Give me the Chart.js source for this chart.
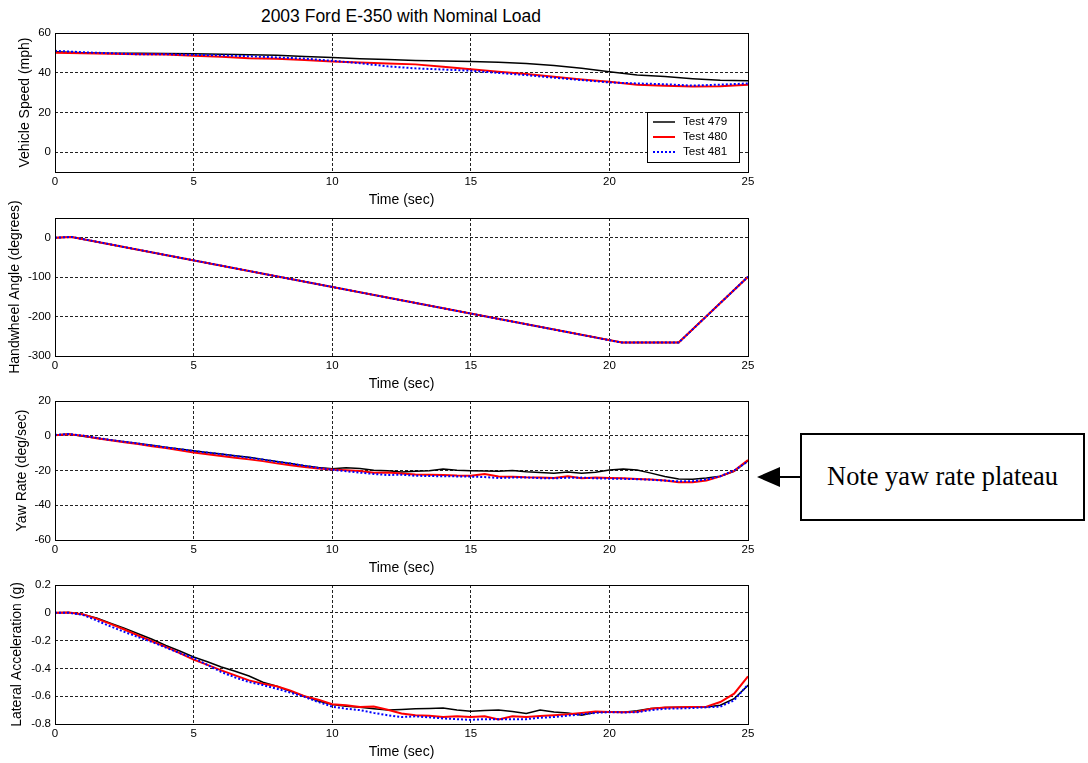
<!DOCTYPE html>
<html>
<head>
<meta charset="utf-8">
<script src="https://cdn.jsdelivr.net/npm/chart.js@4.4.1/dist/chart.umd.min.js"></script>
<style>
  body { margin: 0; background: #fff; width: 1088px; height: 763px; position: relative; overflow: hidden; font-family: 'Liberation Sans', Arial, sans-serif; }
  canvas { position: absolute; left: 0; }
  #title { position: absolute; left: 0; width: 802px; top: 8px; text-align: center; font-size: 17.5px; line-height: 1; color: #000; }
  #note { position: absolute; left: 0; top: 0; }
</style>
</head>
<body>
<div id="title">2003 Ford E-350 with Nominal Load</div>
<canvas id="speedChart"></canvas>
<canvas id="steerChart"></canvas>
<canvas id="yawChart"></canvas>
<canvas id="latChart"></canvas>
<svg id="note" width="1088" height="763">
  <rect x="801" y="434" width="283" height="86" fill="#fff" stroke="#000" stroke-width="2"/>
  <line x1="800" y1="477" x2="779" y2="477" stroke="#000" stroke-width="2"/>
  <polygon points="757,477 780,467 780,487" fill="#000"/>
  <text x="942.5" y="485" text-anchor="middle" font-family="'Liberation Serif', 'Times New Roman', serif" font-size="26.4">Note yaw rate plateau</text>
</svg>
<script>
const seriesLabels = ['Test 479', 'Test 480', 'Test 481'];
const xTicks = [0, 5, 10, 15, 20, 25];

// vehicle speed, mph
const speedTime = [0, 1, 2, 3, 4, 5, 6, 7, 8, 9, 10, 11, 12, 13, 14, 15, 16, 17, 18, 19, 20, 21, 22, 23, 24, 25];
const speed479 = [50.5, 50, 49.8, 49.8, 49.7, 49.5, 49.3, 49.1, 48.8, 48.2, 47.6, 47, 46.6, 46.2, 45.9, 45.6, 45.3, 44.7, 43.6, 42.2, 40.5, 38.8, 38.1, 37, 36.2, 36];
const speed480 = [50, 49.8, 49.5, 49.3, 49.2, 48.6, 48.1, 47.3, 47, 46.4, 45.6, 45.1, 44.7, 44.2, 43, 41.8, 40.5, 39.3, 38, 36.6, 35.4, 34, 33.4, 33, 33.2, 34];
const speed481 = [51, 50.3, 49.8, 49.3, 49.3, 49, 48.7, 48.3, 47.7, 47.1, 46, 44.8, 43.2, 42.2, 41.6, 41, 39.9, 38.8, 37.5, 36.3, 35.1, 34.6, 34.2, 33.5, 34, 34.6];
const speedTicks = [0, 20, 40, 60];

// handwheel angle, degrees
const steerTime = [0, 0.6, 20.45, 22.5, 25];
const steer479 = [0, 2, -266, -266, -99];
const steer480 = [0, 2, -266, -266, -99];
const steer481 = [0, 2, -266, -266, -99];
const steerTicks = [-300, -200, -100, 0];

// yaw rate, deg/sec (0.5 s steps)
const yawTime = [0, 0.5, 1, 1.5, 2, 2.5, 3, 3.5, 4, 4.5, 5, 5.5, 6, 6.5, 7, 7.5, 8, 8.5, 9, 9.5, 10, 10.5, 11, 11.5, 12, 12.5, 13, 13.5, 14, 14.5, 15, 15.5, 16, 16.5, 17, 17.5, 18, 18.5, 19, 19.5, 20, 20.5, 21, 21.5, 22, 22.5, 23, 23.5, 24, 24.5, 25];
const yaw479 = [0.4, 1, -0.3, -1.3, -2.4, -3.4, -4.4, -5.5, -6.6, -7.6, -8.6, -9.6, -10.5, -11.5, -12.4, -13.6, -14.8, -16, -17.2, -18.2, -19, -18.4, -18.8, -19.8, -20.1, -20.9, -20.5, -20.2, -19.1, -19.8, -20.1, -20.3, -20.5, -20, -20.7, -21.2, -21.6, -20.8, -21.6, -21, -19.7, -19.2, -19.7, -21.5, -23.5, -24.9, -25, -24.3, -23.3, -20.5, -14.4];
const yaw480 = [0.3, 0.8, 0, -1.5, -2.6, -3.7, -4.8, -6, -7.1, -8.4, -9.6, -10.6, -11.6, -12.6, -13.6, -14.6, -15.9, -17, -18, -18.8, -19.4, -19.8, -20.3, -21.3, -21.2, -21.7, -22.3, -22.4, -22.6, -22.9, -23, -22, -23.5, -23.6, -23.9, -24, -24.3, -23.3, -24.5, -24.1, -24.3, -24.5, -24.9, -25.2, -25.8, -26.7, -26.8, -25.8, -23.4, -20.2, -14];
const yaw481 = [0.5, 1, 0.1, -1.2, -2.4, -3.4, -4.5, -5.6, -6.7, -7.7, -8.7, -9.7, -10.6, -11.6, -12.6, -13.7, -14.9, -16, -17.3, -18.5, -19.6, -20.4, -21.2, -22, -22.6, -22.4, -23, -23.2, -23.3, -23.4, -23.5, -23.8, -24.3, -24.1, -24, -24.4, -24.5, -24.2, -24.1, -24.5, -24.7, -24.8, -25, -25.3, -25.8, -26.2, -26.2, -25.2, -23.3, -20, -14.8];
const yawTicks = [-60, -40, -20, 0, 20];

// lateral acceleration, g (0.5 s steps)
const latTime = yawTime;
const lat479 = [0, 0.003, -0.012, -0.038, -0.074, -0.11, -0.151, -0.19, -0.235, -0.275, -0.318, -0.352, -0.39, -0.42, -0.455, -0.5, -0.529, -0.565, -0.6, -0.635, -0.66, -0.672, -0.68, -0.69, -0.7, -0.695, -0.69, -0.688, -0.685, -0.7, -0.709, -0.703, -0.7, -0.71, -0.725, -0.7, -0.713, -0.72, -0.737, -0.715, -0.713, -0.715, -0.705, -0.688, -0.682, -0.68, -0.677, -0.677, -0.665, -0.618, -0.522];
const lat480 = [0, 0.002, -0.01, -0.042, -0.08, -0.12, -0.163, -0.205, -0.245, -0.29, -0.337, -0.375, -0.414, -0.45, -0.486, -0.51, -0.529, -0.56, -0.6, -0.625, -0.658, -0.665, -0.678, -0.675, -0.697, -0.725, -0.737, -0.74, -0.75, -0.745, -0.75, -0.745, -0.768, -0.745, -0.75, -0.742, -0.737, -0.73, -0.72, -0.71, -0.713, -0.716, -0.712, -0.69, -0.682, -0.68, -0.678, -0.675, -0.642, -0.582, -0.457];
const lat481 = [0, 0, -0.015, -0.055, -0.098, -0.137, -0.175, -0.21, -0.25, -0.29, -0.325, -0.375, -0.426, -0.465, -0.498, -0.52, -0.546, -0.575, -0.605, -0.642, -0.675, -0.69, -0.7, -0.72, -0.737, -0.75, -0.745, -0.752, -0.76, -0.765, -0.77, -0.765, -0.765, -0.765, -0.765, -0.755, -0.75, -0.74, -0.73, -0.72, -0.715, -0.717, -0.715, -0.7, -0.69, -0.688, -0.685, -0.68, -0.675, -0.63, -0.515];
const latTicks = [-0.8, -0.6, -0.4, -0.2, 0, 0.2];

const FONT = "'Liberation Sans', Arial, sans-serif";
Chart.defaults.font.family = FONT;
Chart.defaults.color = '#000';

// order: blue dotted drawn on top, black at the bottom
const lineStyles = [
    { borderColor: '#000000', borderWidth: 1.5, order: 3 },
    { borderColor: '#ff0000', borderWidth: 2, order: 2 },
    { borderColor: '#0000ff', borderWidth: 2, borderDash: [2, 2], order: 1 }
];

const PAD_TOP = 20;
const panels = [
    { id: 'speedChart', plotTop: 33, plotH: 139, label: 'Vehicle Speed (mph)', min: -10, max: 60, ticks: speedTicks, labelX: 25,
      time: speedTime, series: [speed479, speed480, speed481], legend: true },
    { id: 'steerChart', plotTop: 218, plotH: 138, label: 'Handwheel Angle (degrees)', min: -300, max: 50, ticks: steerTicks, labelX: 15,
      time: steerTime, series: [steer479, steer480, steer481] },
    { id: 'yawChart', plotTop: 401, plotH: 139, label: 'Yaw Rate (deg/sec)', min: -60, max: 20, ticks: yawTicks, labelX: 21.8,
      time: yawTime, series: [yaw479, yaw480, yaw481] },
    { id: 'latChart', plotTop: 585, plotH: 139, label: 'Lateral Acceleration (g)', min: -0.8, max: 0.2, ticks: latTicks, labelX: 17.6,
      time: latTime, series: [lat479, lat480, lat481] }
];

// solid box around the plot area, the y label (may run past the axis, like matlab) and the legend
const framePlugin = {
    id: 'frame',
    afterDatasetsDraw(chart, args, opts) {
        const ctx = chart.ctx;
        const a = chart.chartArea;
        ctx.save();
        ctx.setLineDash([]);
        ctx.strokeStyle = '#000';
        ctx.lineWidth = 1;
        ctx.strokeRect(Math.round(a.left) + 0.5, Math.round(a.top) + 0.5, Math.round(a.right - a.left), Math.round(a.bottom - a.top));

        ctx.save();
        ctx.translate(opts.labelX, (a.top + a.bottom) / 2);
        ctx.rotate(-Math.PI / 2);
        ctx.font = '14px ' + FONT;
        ctx.fillStyle = '#000';
        ctx.textAlign = 'center';
        ctx.textBaseline = 'middle';
        ctx.fillText(opts.label, 0, 0);
        ctx.restore();

        if (opts.legend) {
            const w = 92, h = 50;
            const left = Math.round(a.right) - 9 - w;
            const top = Math.round(a.bottom) - 10 - h;
            ctx.fillStyle = '#fff';
            ctx.fillRect(left, top, w, h);
            ctx.strokeRect(left + 0.5, top + 0.5, w, h);
            ctx.font = '11.7px ' + FONT;
            ctx.textBaseline = 'middle';
            chart.data.datasets.forEach((ds, i) => {
                const y = top + 10 + i * 15;
                ctx.save();
                ctx.strokeStyle = ds.borderColor;
                ctx.lineWidth = ds.borderWidth;
                ctx.setLineDash(ds.borderDash || []);
                ctx.beginPath();
                ctx.moveTo(left + 6, y);
                ctx.lineTo(left + 28, y);
                ctx.stroke();
                ctx.restore();
                ctx.fillStyle = '#000';
                ctx.fillText(ds.label, left + 36, y);
            });
        }
        ctx.restore();
    }
};

panels.forEach(p => {
    const el = document.getElementById(p.id);
    el.width = 760;
    el.height = PAD_TOP + p.plotH + 40;
    el.style.top = (p.plotTop - PAD_TOP) + 'px';

    new Chart(el, {
        type: 'line',
        data: {
            datasets: p.series.map((vals, i) => ({
                label: seriesLabels[i],
                data: p.time.map((t, k) => ({ x: t, y: vals[k] })),
                ...lineStyles[i],
                pointRadius: 0,
                tension: 0,
                fill: false
            }))
        },
        plugins: [framePlugin],
        options: {
            responsive: false,
            animation: false,
            layout: { padding: { top: PAD_TOP, right: 12, left: 0, bottom: 0 } },
            plugins: {
                legend: { display: false },
                tooltip: { enabled: false },
                frame: { legend: !!p.legend, label: p.label, labelX: p.labelX }
            },
            scales: {
                x: {
                    type: 'linear',
                    min: 0,
                    max: 25,
                    afterBuildTicks: s => { s.ticks = xTicks.map(v => ({ value: v })); },
                    afterFit: s => { s.height = 40; s.paddingLeft = 0; s.paddingRight = 0; },
                    grid: { color: '#222', lineWidth: 1, drawTicks: false },
                    border: { display: false, dash: [3, 2] },
                    ticks: { padding: 3, autoSkip: false, maxRotation: 0, font: { size: 11.5 }, color: '#000', callback: v => String(v) },
                    title: { display: true, text: 'Time (sec)', font: { size: 14 }, color: '#000', padding: { top: 0, bottom: 3 } }
                },
                y: {
                    type: 'linear',
                    min: p.min,
                    max: p.max,
                    afterBuildTicks: s => { s.ticks = p.ticks.map(v => ({ value: v })); },
                    afterFit: s => { s.width = 55; s.paddingTop = 0; s.paddingBottom = 0; },
                    grid: { color: '#222', lineWidth: 1, drawTicks: false },
                    border: { display: false, dash: [3, 2] },
                    ticks: { padding: 4, autoSkip: false, font: { size: 11.5 }, color: '#000', callback: v => String(v) }
                }
            }
        }
    });
});
</script>
</body>
</html>
